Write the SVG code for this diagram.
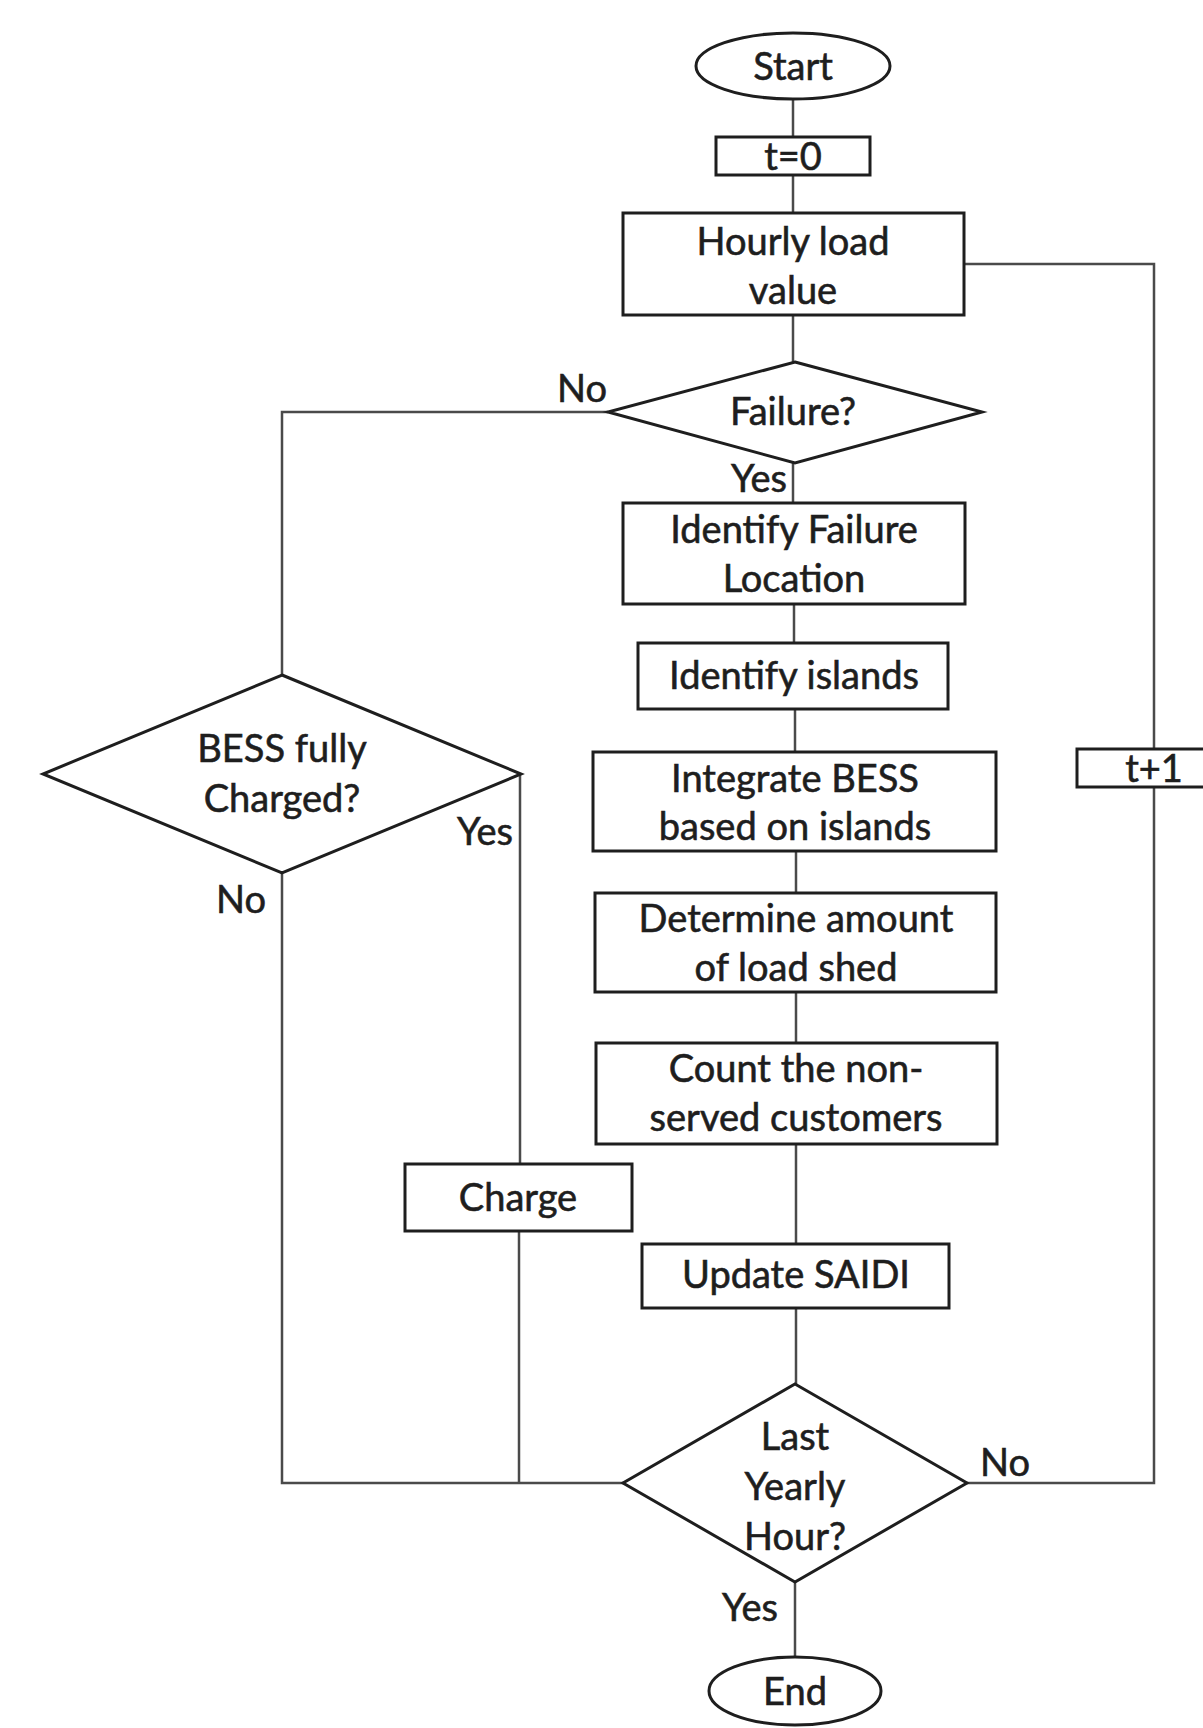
<svg xmlns="http://www.w3.org/2000/svg" width="1203" height="1728" viewBox="0 0 1203 1728">
  <style>
    .shape { fill: #ffffff; stroke: #1e1e1e; stroke-width: 3; }
    .wire { fill: none; stroke: #4a4a4a; stroke-width: 2.5; }
    text { font-family: "Lato", "Open Sans", "Liberation Sans", sans-serif; font-size: 38px; fill: #1e1e1e; stroke: #1e1e1e; stroke-width: 0.6; text-anchor: middle; }
    .lbl { text-anchor: start; }
  </style>
  <rect width="1203" height="1728" fill="#ffffff"/>

  <!-- connectors -->
  <g id="connectors">
    <path class="wire" d="M793 99 V137"/>
    <path class="wire" d="M793 175 V213"/>
    <path class="wire" d="M793 315 V362"/>
    <path class="wire" d="M793 463 V503"/>
    <path class="wire" d="M794 604 V643"/>
    <path class="wire" d="M795 709 V752"/>
    <path class="wire" d="M796 851 V893"/>
    <path class="wire" d="M796 992 V1043"/>
    <path class="wire" d="M796 1144 V1244"/>
    <path class="wire" d="M796 1308 V1384"/>
    <path class="wire" d="M795 1582 V1657"/>
    <!-- t+1 loop back -->
    <path class="wire" d="M964 264 H1154 V1483 H967"/>
    <!-- Failure? No branch -->
    <path class="wire" d="M608 412 H282 V675"/>
    <!-- BESS No branch -->
    <path class="wire" d="M282 873 V1483 H623"/>
    <!-- BESS Yes branch through Charge -->
    <path class="wire" d="M520 774 V1164"/>
    <path class="wire" d="M519 1231 V1483"/>
  </g>

  <!-- branch labels -->
  <g id="labels">
    <text class="lbl" x="557" y="402">No</text>
    <text class="lbl" x="731" y="492">Yes</text>
    <text class="lbl" x="457" y="845">Yes</text>
    <text class="lbl" x="216" y="913">No</text>
    <text class="lbl" x="980" y="1476">No</text>
    <text class="lbl" x="722" y="1621">Yes</text>
  </g>

  <g id="start">
    <ellipse class="shape" cx="793" cy="66" rx="97" ry="33"/>
    <text x="793" y="80">Start</text>
  </g>

  <g id="t0">
    <rect class="shape" x="716" y="137" width="154" height="38"/>
    <text x="793" y="170">t=0</text>
  </g>

  <g id="hourly-load">
    <rect class="shape" x="623" y="213" width="341" height="102"/>
    <text x="793" y="255">Hourly load</text>
    <text x="793" y="304">value</text>
  </g>

  <g id="failure">
    <polygon class="shape" points="795,362 982,412 795,463 608,412"/>
    <text x="793" y="425">Failure?</text>
  </g>

  <g id="identify-failure">
    <rect class="shape" x="623" y="503" width="342" height="101"/>
    <text x="794" y="543">Identify Failure</text>
    <text x="794" y="592">Location</text>
  </g>

  <g id="identify-islands">
    <rect class="shape" x="638" y="643" width="310" height="66"/>
    <text x="794" y="689">Identify islands</text>
  </g>

  <g id="integrate-bess">
    <rect class="shape" x="593" y="752" width="403" height="99"/>
    <text x="795" y="792">Integrate BESS</text>
    <text x="795" y="840">based on islands</text>
  </g>

  <g id="load-shed">
    <rect class="shape" x="595" y="893" width="401" height="99"/>
    <text x="796" y="932">Determine amount</text>
    <text x="796" y="981">of load shed</text>
  </g>

  <g id="count-customers">
    <rect class="shape" x="596" y="1043" width="401" height="101"/>
    <text x="796" y="1082">Count the non-</text>
    <text x="796" y="1131">served customers</text>
  </g>

  <g id="update-saidi">
    <rect class="shape" x="642" y="1244" width="307" height="64"/>
    <text x="796" y="1288">Update SAIDI</text>
  </g>

  <g id="last-hour">
    <polygon class="shape" points="795,1384 967,1483 795,1582 623,1483"/>
    <text x="795" y="1450">Last</text>
    <text x="795" y="1500">Yearly</text>
    <text x="795" y="1550">Hour?</text>
  </g>

  <g id="end">
    <ellipse class="shape" cx="795" cy="1691" rx="86" ry="34"/>
    <text x="795" y="1705">End</text>
  </g>

  <g id="bess-charged">
    <polygon class="shape" points="282,675 521,774 282,873 43,774"/>
    <text x="282" y="762">BESS fully</text>
    <text x="282" y="812">Charged?</text>
  </g>

  <g id="charge">
    <rect class="shape" x="405" y="1164" width="227" height="67"/>
    <text x="518" y="1211">Charge</text>
  </g>

  <g id="t-plus-1">
    <rect class="shape" x="1077" y="749" width="150" height="38"/>
    <text x="1154" y="782">t+1</text>
  </g>
</svg>
